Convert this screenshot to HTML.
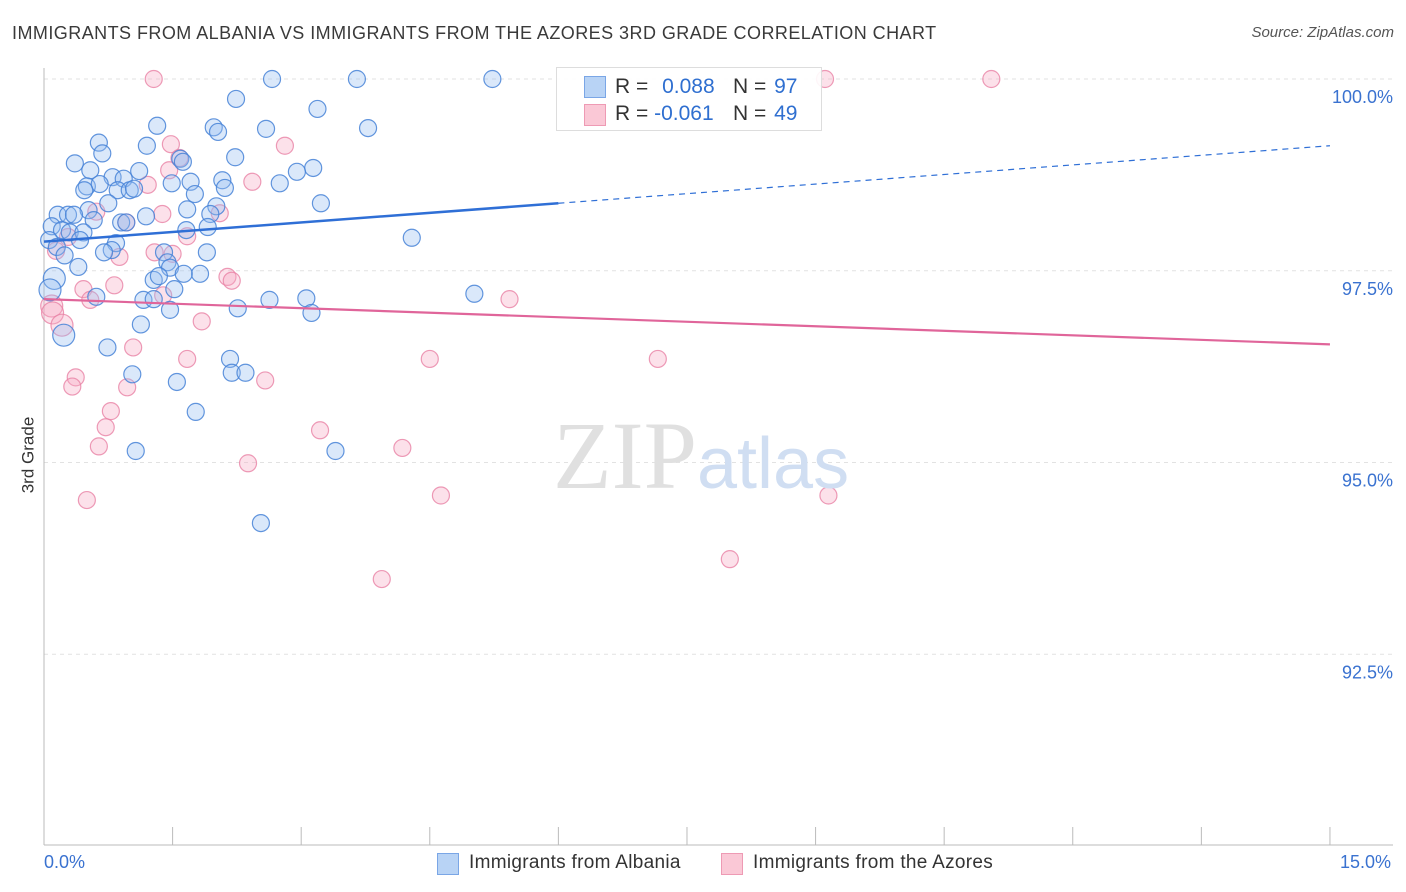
<!DOCTYPE html>
<html><head><meta charset="utf-8">
<style>
body{margin:0;background:#fff;font-family:"Liberation Sans",sans-serif;}
#wrap{position:relative;width:1406px;height:892px;overflow:hidden;}
.t{position:absolute;white-space:nowrap;}
</style></head>
<body>
<div id="wrap">
<div class="t" style="left:12px;top:23px;font-size:18px;color:#3a3a3a;letter-spacing:0.45px;">IMMIGRANTS FROM ALBANIA VS IMMIGRANTS FROM THE AZORES 3RD GRADE CORRELATION CHART</div>
<div class="t" style="right:12px;top:24px;font-size:15px;color:#555;font-style:italic;">Source: ZipAtlas.com</div>
<div class="t" style="left:-10px;top:445px;font-size:17px;color:#333;transform:rotate(-90deg);">3rd Grade</div>
<svg id="svg" width="1406" height="892" style="position:absolute;left:0;top:0"></svg>
<div style="position:absolute;left:556px;top:67px;width:264px;height:62px;border:1px solid #ddd;background:rgba(255,255,255,0.9);font-size:21px;">
  <div style="position:absolute;left:27px;top:8px;width:20px;height:20px;background:#b8d3f5;border:1px solid #7aa6e6;"></div>
  <div class="t" style="left:58px;top:7px;color:#333;">R = <span style="color:#2f6fd0;margin-left:8px">0.088</span></div>
  <div class="t" style="left:176px;top:7px;color:#333;">N = <span style="color:#2f6fd0;margin-left:2px">97</span></div>
  <div style="position:absolute;left:27px;top:36px;width:20px;height:20px;background:#fac8d6;border:1px solid #ee9ab4;"></div>
  <div class="t" style="left:58px;top:34px;color:#333;">R = <span style="color:#2f6fd0;">-0.061</span></div>
  <div class="t" style="left:176px;top:34px;color:#333;">N = <span style="color:#2f6fd0;margin-left:2px">49</span></div>
</div>
<div class="t" style="left:553px;top:400px;font-size:96px;font-family:'Liberation Serif',serif;color:#e0e0e0;">ZIP<span style="font-family:'Liberation Sans',sans-serif;color:#d0def2;font-size:72px;">atlas</span></div>
<div class="t" style="left:44px;top:852px;font-size:18px;color:#3a72d0;">0.0%</div>
<div class="t" style="left:1340px;top:852px;font-size:18px;color:#3a72d0;">15.0%</div>
<div>
  <div style="position:absolute;left:437px;top:853px;width:20px;height:20px;background:#b8d3f5;border:1px solid #7aa6e6;"></div>
  <div class="t" style="left:469px;top:852px;font-size:19px;color:#333;letter-spacing:0.3px;">Immigrants from Albania</div>
  <div style="position:absolute;left:721px;top:853px;width:20px;height:20px;background:#fac8d6;border:1px solid #ee9ab4;"></div>
  <div class="t" style="left:753px;top:852px;font-size:19px;color:#333;letter-spacing:0.3px;">Immigrants from the Azores</div>
</div>
</div>
<script>
const yTicks=[100,97.5,95,92.5];
const yTickLabels=["100.0%","97.5%","95.0%","92.5%"];
const xTicks=[0,1.5,3,4.5,6,7.5,9,10.5,12,13.5,15];
const blueX=[2.66,3.65,5.23,2.24,3.19,1.32,1.98,2.59,3.78,2.03,0.64,1.20,0.68,2.23,1.59,1.62,0.36,0.54,3.14,2.95,1.11,0.80,0.93,2.08,1.71,1.49,2.75,0.50,0.65,2.11,0.86,1.00,1.05,0.47,1.76,3.23,0.75,1.67,2.01,0.52,0.16,0.28,0.35,1.19,0.58,0.90,0.96,1.94,1.91,0.09,0.21,0.30,0.46,1.66,4.29,0.42,0.06,0.84,0.15,0.79,0.70,1.90,1.40,0.24,1.44,0.40,1.47,1.82,1.63,1.28,1.34,0.12,0.07,1.52,5.02,0.61,1.16,1.28,2.63,3.06,2.26,1.47,3.12,1.13,0.23,0.74,2.17,1.03,2.19,2.35,1.55,1.77,1.07,3.40,2.53];
const blueY=[100,100,100,99.74,99.61,99.39,99.37,99.35,99.36,99.31,99.17,99.13,99.03,98.98,98.96,98.92,98.90,98.81,98.84,98.79,98.80,98.72,98.70,98.68,98.66,98.64,98.64,98.60,98.63,98.58,98.55,98.55,98.57,98.55,98.50,98.38,98.38,98.30,98.34,98.29,98.23,98.23,98.23,98.21,98.16,98.13,98.13,98.24,98.07,98.08,98.03,98.00,98.00,98.03,97.93,97.90,97.90,97.86,97.81,97.77,97.74,97.74,97.74,97.70,97.61,97.55,97.54,97.46,97.46,97.38,97.43,97.40,97.25,97.26,97.20,97.16,97.12,97.13,97.12,97.14,97.01,96.99,96.95,96.80,96.66,96.50,96.35,96.15,96.17,96.17,96.05,95.66,95.15,95.15,94.21];
const pinkX=[1.28,9.11,11.05,1.48,2.81,1.58,1.46,2.43,1.21,0.61,2.05,1.38,0.96,0.28,1.67,0.14,1.29,1.50,0.88,2.14,2.19,0.82,0.46,1.39,0.54,5.43,0.09,0.10,1.84,0.21,1.04,1.67,4.50,7.16,0.37,0.33,0.97,2.58,0.78,0.72,3.22,0.64,4.18,2.38,0.50,4.63,9.15,8.00,3.94];
const pinkY=[100,100,100,99.15,99.13,98.97,98.81,98.66,98.62,98.27,98.25,98.24,98.13,97.94,97.95,97.76,97.74,97.72,97.68,97.42,97.37,97.31,97.26,97.18,97.12,97.13,97.04,96.95,96.84,96.79,96.50,96.35,96.35,96.35,96.11,95.99,95.98,96.07,95.67,95.46,95.42,95.21,95.19,94.99,94.51,94.57,94.57,93.74,93.48];
const blueTrend=[97.88,99.13];
const pinkTrend=[97.13,96.54];
const blueSolidEnd=6;
const X=v=>44+v*85.73;
const Y=v=>79+(100-v)*76.7;
const svg=document.getElementById('svg');
const NS='http://www.w3.org/2000/svg';
function mk(tag,at){const e=document.createElementNS(NS,tag);for(const k in at)e.setAttribute(k,at[k]);svg.appendChild(e);return e;}
yTicks.forEach((t,i)=>{
  const g=mk('line',{x1:44,x2:1393,y1:Y(t),y2:Y(t),stroke:'#e2e2e2','stroke-dasharray':'4,4'});
  
  
  const tx=mk('text',{x:1393,y:Y(t)+24,'text-anchor':'end','font-size':18,fill:'#3a72d0','font-family':'Liberation Sans, sans-serif'});
  tx.textContent=yTickLabels[i];
  
  
});
let a=mk('line',{x1:44,x2:44,y1:68,y2:845,stroke:'#bbb'});


a=mk('line',{x1:44,x2:1393,y1:845,y2:845,stroke:'#bbb'});


xTicks.forEach(t=>{
  const l=mk('line',{x1:X(t),x2:X(t),y1:827,y2:845,stroke:'#bbb'});
  
  
});
function pts(xs,ys,fill,stroke,name){
  xs.forEach((x,i)=>{
    const r=(x<0.3&&ys[i]<97.5&&ys[i]>96.5)?11:8.5;
    const c=mk('circle',{cx:X(x),cy:Y(ys[i]),r:r,fill:fill,stroke:stroke,'stroke-width':1.2});
    
    
  });
}
pts(pinkX,pinkY,'rgba(246,170,195,0.35)','rgba(232,130,165,0.8)','azores-point');
pts(blueX,blueY,'rgba(150,190,240,0.35)','rgba(70,130,215,0.85)','albania-point');
const tb=v=>blueTrend[0]+(blueTrend[1]-blueTrend[0])*v/15;
let l=mk('line',{x1:X(0),y1:Y(tb(0)),x2:X(blueSolidEnd),y2:Y(tb(blueSolidEnd)),stroke:'#2f6fd6','stroke-width':2.5});


l=mk('line',{x1:X(blueSolidEnd),y1:Y(tb(blueSolidEnd)),x2:X(15),y2:Y(tb(15)),stroke:'#2f6fd6','stroke-width':1.2,'stroke-dasharray':'6,5'});


l=mk('line',{x1:X(0),y1:Y(pinkTrend[0]),x2:X(15),y2:Y(pinkTrend[1]),stroke:'#e0659a','stroke-width':2.2});


</script>
</body></html>
